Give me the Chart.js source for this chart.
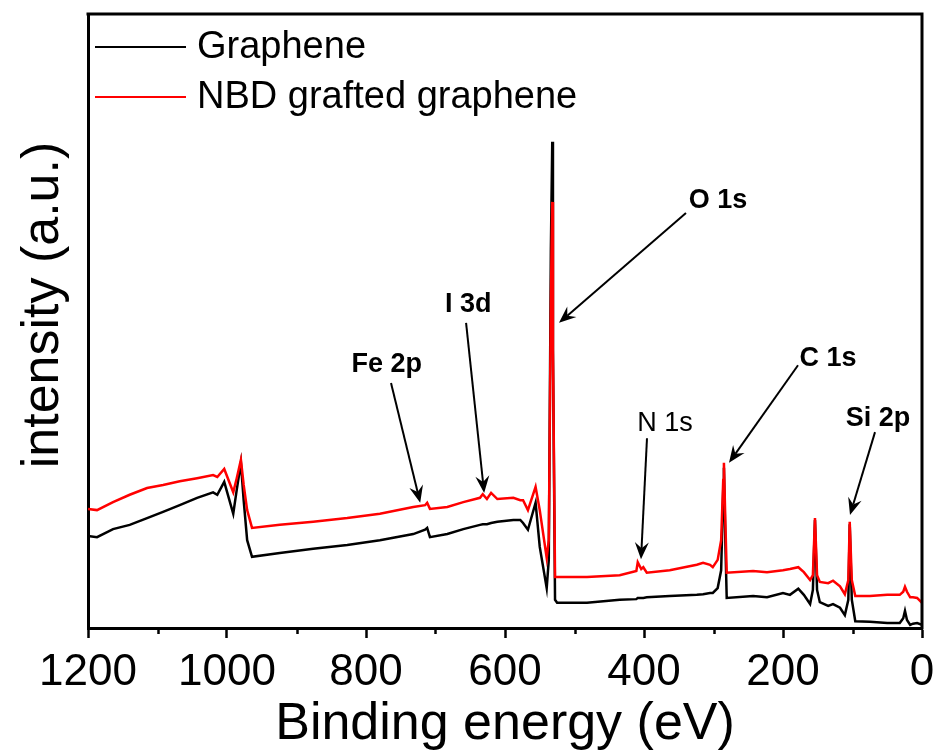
<!doctype html>
<html lang="en">
<head>
<meta charset="utf-8">
<title>XPS survey spectra</title>
<script src="https://cdn.jsdelivr.net/npm/chart.js@4.4.1/dist/chart.umd.min.js"></script>
<style>
  html, body { margin: 0; padding: 0; background: #fff; }
  #chartBox { width: 936px; height: 756px; }
</style>
</head>
<body>
<div id="chartBox"><canvas id="xpsChart" width="936" height="756"></canvas></div>
<script>
// binding energy (eV), shared by both spectra
const energy = [
  1200, 1187, 1164, 1140, 1115, 1092, 1068, 1043, 1020, 1014,
  1004, 991, 986, 980, 976, 971, 964, 924, 876, 827,
  780, 732, 715, 712, 708, 683, 660, 636, 632, 626,
  620, 611, 588, 578, 574, 567, 556, 550, 540, 537,
  534, 532, 531, 528, 525, 482, 435, 411, 409, 404,
  401, 396, 363, 324, 315, 305, 301, 294, 289, 286,
  285, 283, 281, 243, 223, 200, 190, 178, 170, 161,
  157, 154, 151, 147, 135, 128, 118, 111, 106, 104,
  101, 96, 75, 50, 32, 27, 24.5, 21.6, 17, 13,
  7, 0
];

// intensity (a.u.) - graphene (black)
const graphene = [
  15.0, 14.8, 16.1, 16.8, 17.9, 18.9, 20.0, 21.2, 22.1, 21.7,
  23.8, 18.6, 22.5, 26.9, 20.8, 14.3, 11.6, 12.2, 12.9, 13.5,
  14.3, 15.3, 16.0, 16.3, 14.8, 15.3, 16.1, 16.8, 16.9, 16.9,
  17.1, 17.3, 17.6, 17.6, 17.1, 16.0, 20.4, 13.2, 6.5, 11.1,
  61.6, 79.2, 45.3, 4.6, 4.1, 4.1, 4.6, 4.7, 4.9, 4.9,
  4.9, 5.0, 5.2, 5.4, 5.5, 5.7, 5.7, 6.5, 9.4, 22.5,
  26.1, 14.3, 4.9, 5.2, 5.0, 5.7, 5.4, 6.4, 5.4, 3.9,
  6.2, 17.6, 6.2, 4.2, 3.6, 3.9, 3.3, 2.1, 4.6, 16.9,
  4.6, 1.1, 1.0, 0.8, 0.8, 1.6, 2.8, 1.3, 0.5, 0.7,
  0.8, 0.5
];

// intensity (a.u.) - NBD grafted graphene (red)
const nbdGraphene = [
  19.4, 19.2, 20.5, 21.7, 22.8, 23.3, 23.9, 24.4, 24.9, 24.6,
  25.9, 22.1, 24.4, 27.4, 23.3, 19.2, 16.3, 16.8, 17.3, 17.9,
  18.6, 19.7, 20.0, 20.4, 19.4, 19.7, 20.5, 21.2, 21.8, 21.0,
  22.0, 21.0, 21.2, 20.8, 20.8, 19.2, 23.0, 19.2, 11.4, 14.3,
  53.4, 69.4, 45.3, 8.3, 8.3, 8.3, 8.6, 9.3, 10.7, 9.6,
  9.9, 9.0, 9.4, 10.3, 10.6, 10.3, 9.9, 11.1, 14.3, 24.1,
  26.9, 17.6, 9.0, 9.3, 9.1, 9.4, 9.6, 9.9, 9.1, 7.8,
  8.6, 17.9, 8.6, 7.5, 7.3, 7.7, 6.8, 5.5, 7.8, 17.3,
  7.8, 5.2, 5.2, 5.4, 5.4, 5.9, 6.7, 5.9, 5.0, 5.0,
  4.9, 4.1
];

const seriesNames = ['Graphene', 'NBD grafted graphene'];
const seriesColors = ['#000000', '#ff0000'];
const xMajorTicks = [1200, 1000, 800, 600, 400, 200, 0];
const xMinorTicks = [1100, 900, 700, 500, 300, 100];

// peak labels: text position and arrow, in (eV, a.u.)
const peakNotes = [
  { text: 'Fe 2p', bold: true,  at: [770, 43.0],   from: [764, 39.9],   to: [722, 20.4] },
  { text: 'I 3d',  bold: true,  at: [653, 52.9],   from: [656, 49.7],   to: [630, 22.0] },
  { text: 'O 1s',  bold: true,  at: [293.5, 69.7], from: [339.6, 67.6], to: [522.3, 49.7] },
  { text: 'N 1s',  bold: false, at: [369.8, 33.4], from: [395.7, 30.9], to: [404.3, 11.2] },
  { text: 'C 1s',  bold: true,  at: [135.2, 44.1], from: [178.4, 42.8], to: [277.7, 26.9] },
  { text: 'Si 2p', bold: true,  at: [63.3, 34.2],  from: [67.6, 31.9],  to: [103.6, 18.4] }
];

const FONT = '"Liberation Sans", Arial, sans-serif';
Chart.defaults.font.family = FONT;
Chart.defaults.color = '#000';

const toPoints = (ys) => energy.map((e, i) => ({ x: e, y: ys[i] }));

const drawArrow = (ctx, x0, y0, x1, y1) => {
  const ang = Math.atan2(y1 - y0, x1 - x0);
  const c = Math.cos(ang), s = Math.sin(ang);
  const len = 17, half = 7, notch = 11;
  ctx.beginPath();
  ctx.moveTo(x0, y0);
  ctx.lineTo(x1 - c * notch, y1 - s * notch);
  ctx.stroke();
  ctx.beginPath();
  ctx.moveTo(x1, y1);
  ctx.lineTo(x1 - c * len + s * half, y1 - s * len - c * half);
  ctx.lineTo(x1 - c * notch, y1 - s * notch);
  ctx.lineTo(x1 - c * len - s * half, y1 - s * len + c * half);
  ctx.closePath();
  ctx.fill();
};

const decorPlugin = {
  id: 'decor',
  afterDraw(chart) {
    const { ctx, chartArea: a, scales: { x, y } } = chart;
    ctx.save();

    // top and right frame
    ctx.strokeStyle = '#000';
    ctx.lineWidth = 3;
    ctx.beginPath();
    ctx.moveTo(a.left - 1.5, a.top);
    ctx.lineTo(a.right, a.top);
    ctx.lineTo(a.right, a.bottom + 1.5);
    ctx.stroke();

    // minor ticks on x
    ctx.lineWidth = 2.5;
    xMinorTicks.forEach(v => {
      const px = Math.round(x.getPixelForValue(v)) + 0.5;
      ctx.beginPath();
      ctx.moveTo(px, a.bottom);
      ctx.lineTo(px, a.bottom + 6);
      ctx.stroke();
    });

    // peak labels and arrows
    ctx.fillStyle = '#000';
    ctx.lineWidth = 2;
    ctx.textAlign = 'center';
    ctx.textBaseline = 'middle';
    peakNotes.forEach(n => {
      ctx.font = (n.bold ? 'bold ' : '') + '27px ' + FONT;
      ctx.fillText(n.text, x.getPixelForValue(n.at[0]), y.getPixelForValue(n.at[1]) + 1);
      drawArrow(ctx,
        x.getPixelForValue(n.from[0]), y.getPixelForValue(n.from[1]),
        x.getPixelForValue(n.to[0]), y.getPixelForValue(n.to[1]));
    });

    // legend inside the plot, upper left
    ctx.textAlign = 'left';
    ctx.font = '38px ' + FONT;
    seriesNames.forEach((name, i) => {
      const ly = 47 + i * 50;
      ctx.strokeStyle = seriesColors[i];
      ctx.lineWidth = 2;
      ctx.beginPath();
      ctx.moveTo(95, ly);
      ctx.lineTo(186, ly);
      ctx.stroke();
      ctx.fillStyle = '#000';
      ctx.fillText(name, 197, ly + 1);
    });

    // y axis title
    ctx.translate(58, 305);
    ctx.rotate(-Math.PI / 2);
    ctx.textAlign = 'center';
    ctx.textBaseline = 'alphabetic';
    ctx.font = '52px ' + FONT;
    ctx.fillText('intensity (a.u.)', 0, 0);

    ctx.restore();
  }
};

new Chart(document.getElementById('xpsChart'), {
  type: 'line',
  data: {
    datasets: [
      {
        label: seriesNames[0],
        data: toPoints(graphene),
        borderColor: seriesColors[0],
        borderWidth: 2.5,
        order: 2
      },
      {
        label: seriesNames[1],
        data: toPoints(nbdGraphene),
        borderColor: seriesColors[1],
        borderWidth: 2.5,
        order: 1
      }
    ]
  },
  options: {
    responsive: false,
    animation: false,
    layout: { padding: { top: 14, right: 14, left: 0, bottom: 0 } },
    elements: { point: { radius: 0 }, line: { tension: 0 } },
    plugins: { legend: { display: false }, tooltip: { enabled: false } },
    scales: {
      x: {
        type: 'linear',
        reverse: true,
        min: 0,
        max: 1200,
        afterBuildTicks: (scale) => { scale.ticks = xMajorTicks.map(v => ({ value: v })); },
        ticks: { font: { size: 44 }, color: '#000', padding: 8, maxRotation: 0, autoSkip: false, callback: (v) => String(v) },
        grid: { drawOnChartArea: false, tickLength: 10, tickWidth: 2.5, tickColor: '#000' },
        border: { color: '#000', width: 3 },
        title: { display: true, text: 'Binding energy (eV)', font: { size: 52 }, color: '#000', padding: { top: 0, bottom: 0 } },
        afterFit: (scale) => {
          scale.height = 128;
          scale.paddingLeft = 0;
          scale.paddingRight = 0;
        }
      },
      y: {
        min: 0,
        max: 100,
        ticks: { display: false },
        grid: { drawOnChartArea: false, drawTicks: false },
        border: { color: '#000', width: 3 },
        afterFit: (scale) => { scale.width = 88; }
      }
    }
  },
  plugins: [decorPlugin]
});
</script>
</body>
</html>
